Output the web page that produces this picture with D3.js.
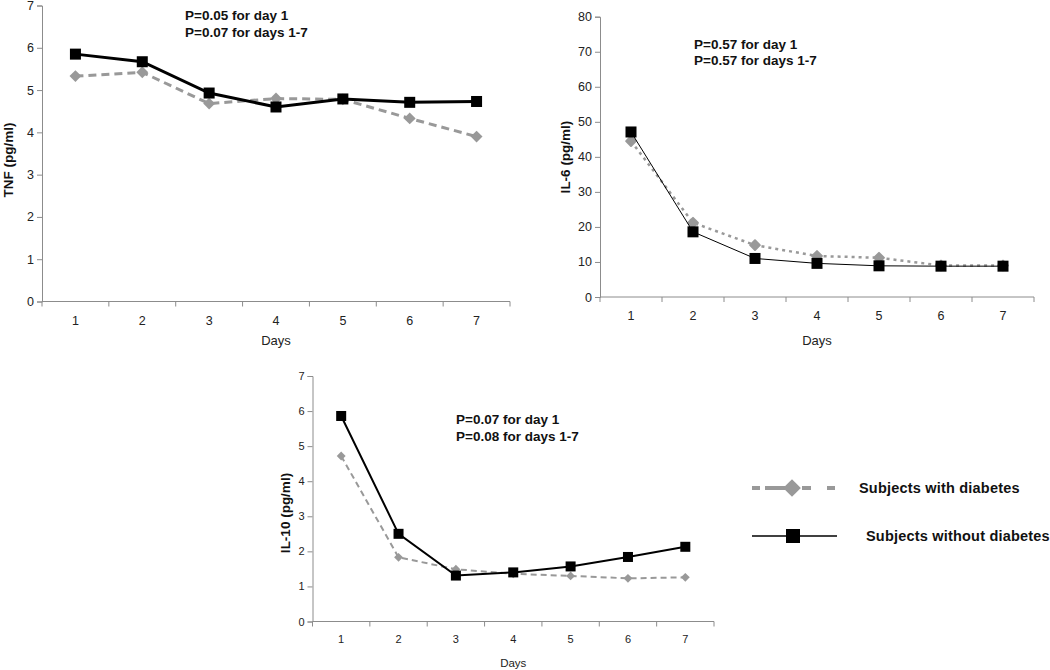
<!DOCTYPE html>
<html><head><meta charset="utf-8">
<script src="https://cdn.jsdelivr.net/npm/d3@7"></script>
<style>body{margin:0;background:#fff}svg{display:block;font-family:"Liberation Sans",Arial,sans-serif}</style>
</head><body>
<svg id="c" width="1050" height="670"></svg>
<script>
const days = ["1","2","3","4","5","6","7"];
const tnfWith = [5.33,5.42,4.68,4.80,4.78,4.33,3.90];
const tnfWithout = [5.85,5.67,4.93,4.60,4.79,4.71,4.73];
const il6With = [44.5,21.2,14.8,11.7,11.2,9.0,9.0];
const il6Without = [47.1,18.6,11.0,9.6,8.9,8.8,8.8];
const il10With = [4.72,1.83,1.49,1.36,1.30,1.23,1.26];
const il10Without = [5.86,2.50,1.31,1.40,1.57,1.84,2.13];
const tnfTicks = [0,1,2,3,4,5,6,7];
const il6Ticks = [0,10,20,30,40,50,60,70,80];
const il10Ticks = [0,1,2,3,4,5,6,7];
const legendLabels = ["Subjects with diabetes","Subjects without diabetes"];

const svg = d3.select("#c");
const axisColor = "#8c8c8c";

function panel(cfg){
  const g = svg.append("g");
  const x = d3.scaleBand().domain(days).range([cfg.x0,cfg.x1]);
  const y = d3.scaleLinear().domain([0,cfg.ymax]).range([cfg.y0,cfg.y1]);
  const bounds = days.map(d=>x(d)).concat([cfg.x1]);
  g.append("line").attr("x1",cfg.x0).attr("x2",cfg.x1).attr("y1",cfg.y0).attr("y2",cfg.y0).attr("stroke",axisColor);
  g.selectAll(".xt").data(bounds).join("line").attr("x1",d=>d).attr("x2",d=>d).attr("y1",cfg.y0).attr("y2",cfg.y0+5).attr("stroke",axisColor);
  g.selectAll(".xl").data(days).join("text").attr("x",d=>x(d)+x.bandwidth()/2).attr("y",cfg.y0+cfg.xlabDy)
    .attr("text-anchor","middle").attr("dominant-baseline","central").attr("font-size",cfg.tickFs).attr("fill","#222").text(d=>d);
  const ya = d3.axisLeft(y).tickValues(cfg.ticks).tickSize(5).tickFormat(d3.format("d"));
  const yg = g.append("g").attr("transform",`translate(${cfg.x0},0)`).call(ya);
  yg.select(".domain").attr("stroke",axisColor);
  yg.selectAll(".tick line").attr("stroke",axisColor);
  yg.selectAll(".tick text").attr("font-size",cfg.tickFs).attr("fill","#222").attr("font-family","Liberation Sans, Arial, sans-serif").attr("x",-8);
  g.append("text").attr("x",(cfg.x0+cfg.x1)/2).attr("y",cfg.y0+cfg.daysDy).attr("text-anchor","middle").attr("dominant-baseline","central")
    .attr("font-size",cfg.tickFs+0.5).attr("fill","#222").text("Days");
  g.append("text").attr("transform",`translate(${cfg.ylx},${cfg.yly}) rotate(-90)`).attr("text-anchor","middle").attr("dominant-baseline","central")
    .attr("font-size",13.5).attr("font-weight","bold").attr("fill","#111").text(cfg.ylabel);
  cfg.note.forEach((t,i)=>{
    g.append("text").attr("x",cfg.nx).attr("y",cfg.ny+i*16.5).attr("dominant-baseline","central")
      .attr("font-size",13.5).attr("font-weight","bold").attr("fill","#111").text(t);
  });
  const cx = d=>x(d)+x.bandwidth()/2;
  const line = vals => d3.line().x((v,i)=>cx(days[i])).y(v=>y(v))(vals);
  g.append("path").attr("d",line(cfg.withV)).attr("fill","none").attr("stroke","#999").attr("stroke-width",cfg.gw).attr("stroke-dasharray",cfg.gdash);
  const dsym = d3.symbol().type(d3.symbolDiamond2).size(cfg.dsize);
  g.selectAll(".dm").data(cfg.withV).join("path").attr("transform",(v,i)=>`translate(${cx(days[i])},${y(v)})`).attr("d",dsym()).attr("fill","#999")
    .attr("stroke","#999").attr("stroke-width",cfg.dstroke||0).attr("stroke-linejoin","round");
  g.append("path").attr("d",line(cfg.withoutV)).attr("fill","none").attr("stroke","#000").attr("stroke-width",cfg.bw);
  g.selectAll(".sq").data(cfg.withoutV).join("rect").attr("x",(v,i)=>cx(days[i])-cfg.sq/2).attr("y",v=>y(v)-cfg.sq/2)
    .attr("width",cfg.sq).attr("height",cfg.sq).attr("fill","#000");
}

panel({x0:42,x1:510,y0:301.5,y1:5.5,ymax:7,ticks:tnfTicks,tickFs:12.5,xlabDy:19,daysDy:38.5,ylx:8,yly:160,ylabel:"TNF (pg/ml)",
  note:["P=0.05 for day 1","P=0.07 for days 1-7"],nx:185,ny:15.5,withV:tnfWith,withoutV:tnfWithout,gw:3,gdash:"8,5",dsize:90,bw:3,sq:11});
panel({x0:600,x1:1034,y0:297,y1:16.7,ymax:80,ticks:il6Ticks,tickFs:12.5,xlabDy:19,daysDy:43,ylx:565,yly:157,ylabel:"IL-6 (pg/ml)",
  note:["P=0.57 for day 1","P=0.57 for days 1-7"],nx:694,ny:44,withV:il6With,withoutV:il6Without,gw:2.5,gdash:"3,4",dsize:60,dstroke:2,bw:1,sq:11});
panel({x0:312.5,x1:714,y0:621.5,y1:376,ymax:7,ticks:il10Ticks,tickFs:11,xlabDy:17,daysDy:41,ylx:285,yly:513,ylabel:"IL-10 (pg/ml)",
  note:["P=0.07 for day 1","P=0.08 for days 1-7"],nx:456,ny:419.5,withV:il10With,withoutV:il10Without,gw:2,gdash:"6,4",dsize:50,bw:2,sq:10});

const lg = svg.append("g");
lg.append("line").attr("x1",752).attr("x2",836).attr("y1",488).attr("y2",488).attr("stroke","#999").attr("stroke-width",4).attr("stroke-dasharray","8,17");
lg.append("path").attr("transform","translate(792,488)").attr("d",d3.symbol().type(d3.symbolDiamond2).size(200)()).attr("fill","#999");
lg.append("line").attr("x1",765).attr("x2",782).attr("y1",488).attr("y2",488).attr("stroke","#999").attr("stroke-width",4);
lg.append("line").attr("x1",802).attr("x2",811).attr("y1",488).attr("y2",488).attr("stroke","#999").attr("stroke-width",4);
lg.append("text").attr("x",859).attr("y",488).attr("dominant-baseline","central").attr("font-size",14.5).attr("letter-spacing",0.2).attr("font-weight","bold").attr("fill","#111").text(legendLabels[0]);
lg.append("line").attr("x1",752).attr("x2",837).attr("y1",536).attr("y2",536).attr("stroke","#000").attr("stroke-width",1.5);
lg.append("rect").attr("x",786).attr("y",529).attr("width",14).attr("height",14).attr("fill","#000");
lg.append("text").attr("x",866).attr("y",536).attr("dominant-baseline","central").attr("font-size",14.5).attr("letter-spacing",0.2).attr("font-weight","bold").attr("fill","#111").text(legendLabels[1]);
</script>
</body></html>
